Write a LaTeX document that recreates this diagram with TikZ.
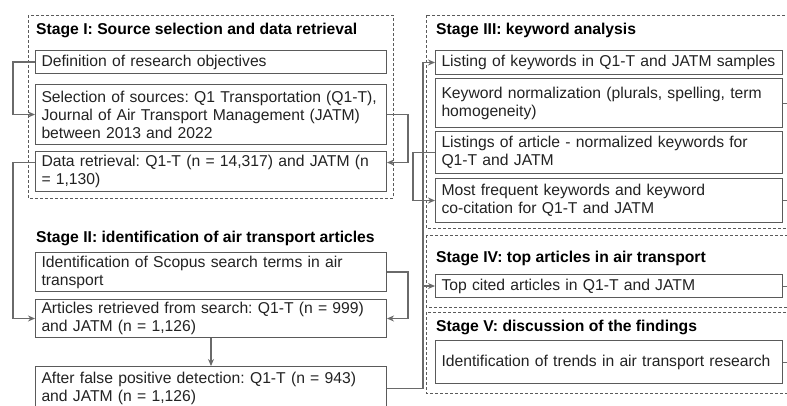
\documentclass[tikz,border=0pt]{standalone}
\usepackage{fontspec}
\setmainfont{Liberation Sans}
\frenchspacing
\usetikzlibrary{arrows.meta}
\definecolor{boxgray}{HTML}{5A5A5A}
\definecolor{linegray}{HTML}{6A6A6A}
\definecolor{txtgray}{HTML}{222222}
\tikzset{
  box/.style={draw=boxgray, line width=1pt, anchor=north west, minimum width=351,
    inner xsep=6pt, inner ysep=0pt, text width=339pt, align=left, text=txtgray,
    font=\fontsize{15.7}{18}\selectfont},
  rbox/.style={box, minimum width=347, text width=335pt},
  stage/.style={draw=boxgray, line width=0.7pt, dash pattern=on 3pt off 2pt},
  title/.style={anchor=west, inner sep=0pt, text=black,
    font=\fontsize{15.7}{18}\selectfont\bfseries},
  link/.style={draw=linegray, line width=1.5pt, -{Stealth[length=7pt,width=6pt]}},
  stub/.style={draw=linegray, line width=0.6pt},
}
\begin{document}
\begin{tikzpicture}[x=1pt,y=-1pt]
  \useasboundingbox (0,0) rectangle (787,405);
  \clip (0,0) rectangle (787,405);
  % stage frames
  \draw[stage] (28,15) rectangle (393,198);
  \draw[stage] (426,15) rectangle (800,228);
  \draw[stage] (426,235) rectangle (800,307);
  \draw[stage] (426,312) rectangle (800,393);
  % Stage I
  \node[title] (t1) at (36,30) {Stage I: Source selection and data retrieval};
  \node[box, minimum height=23] (def) at (35,50) {Definition of research objectives};
  \node[box, minimum height=60] (sel) at (35,84)
    {Selection of sources: Q1 Transportation (Q1-T),\\Journal of Air Transport Management (JATM)\\between 2013 and 2022};
  \node[box, minimum height=40] (ret) at (35,151)
    {Data retrieval: Q1-T (n = 14,317) and JATM (n\\= 1,130)};
  % Stage II
  \node[title] (t2) at (36,238) {Stage II: identification of air transport articles};
  \node[box, minimum height=39] (scop) at (35,252)
    {Identification of Scopus search terms in air\\transport};
  \node[box, minimum height=38] (art) at (35,299)
    {Articles retrieved from search: Q1-T (n = 999)\\and JATM (n = 1,126)};
  \node[box, minimum height=44] (fpos) at (35,366)
    {After false positive detection: Q1-T (n = 943)\\and JATM (n = 1,126)};
  % Stage III
  \node[title] (t3) at (436,30) {Stage III: keyword analysis};
  \node[rbox, minimum height=24] (kwlist) at (435,50) {Listing of keywords in Q1-T and JATM samples};
  \node[rbox, minimum height=49] (kwnorm) at (435,78)
    {Keyword normalization (plurals, spelling, term\\homogeneity)};
  \node[rbox, minimum height=42] (kwart) at (435,131)
    {Listings of article - normalized keywords for\\Q1-T and JATM};
  \node[rbox, minimum height=44] (kwfreq) at (435,178)
    {Most frequent keywords and keyword\\co-citation for Q1-T and JATM};
  % Stage IV
  \node[title] (t4) at (436,258) {Stage IV: top articles in air transport};
  \node[rbox, minimum height=23] (top) at (435,274) {Top cited articles in Q1-T and JATM};
  % Stage V
  \node[title] (t5) at (436,327) {Stage V: discussion of the findings};
  \node[rbox, minimum height=43] (trend) at (435,340) {Identification of trends in air transport research};
  % connectors
  \draw[link] (def.west) -- ++(-22,0) |- (sel.west);
  \draw[link] (sel.east) -- ++(21,0) |- ([yshift=9pt]ret.east);
  \draw[link] ([yshift=9pt]ret.west) -- ++(-22,0) |- (art.west);
  \draw[link] (scop.east) -- ++(21,0) |- (art.east);
  \draw[link] (art.south) -- (fpos.north);
  \draw[link] (fpos.east) -- ++(36,0) coordinate (up) |- (kwlist.west);
  \draw[link] (up |- top.west) -- (top.west);
  \draw[link] (kwart.west) -- ++(-22,0) |- (kwfreq.west);
  % stubs leaving the picture
  \foreach \n in {kwnorm, kwfreq, top, trend}
    \draw[stub] (\n.east) -- ++(6,0);
\end{tikzpicture}
\end{document}
